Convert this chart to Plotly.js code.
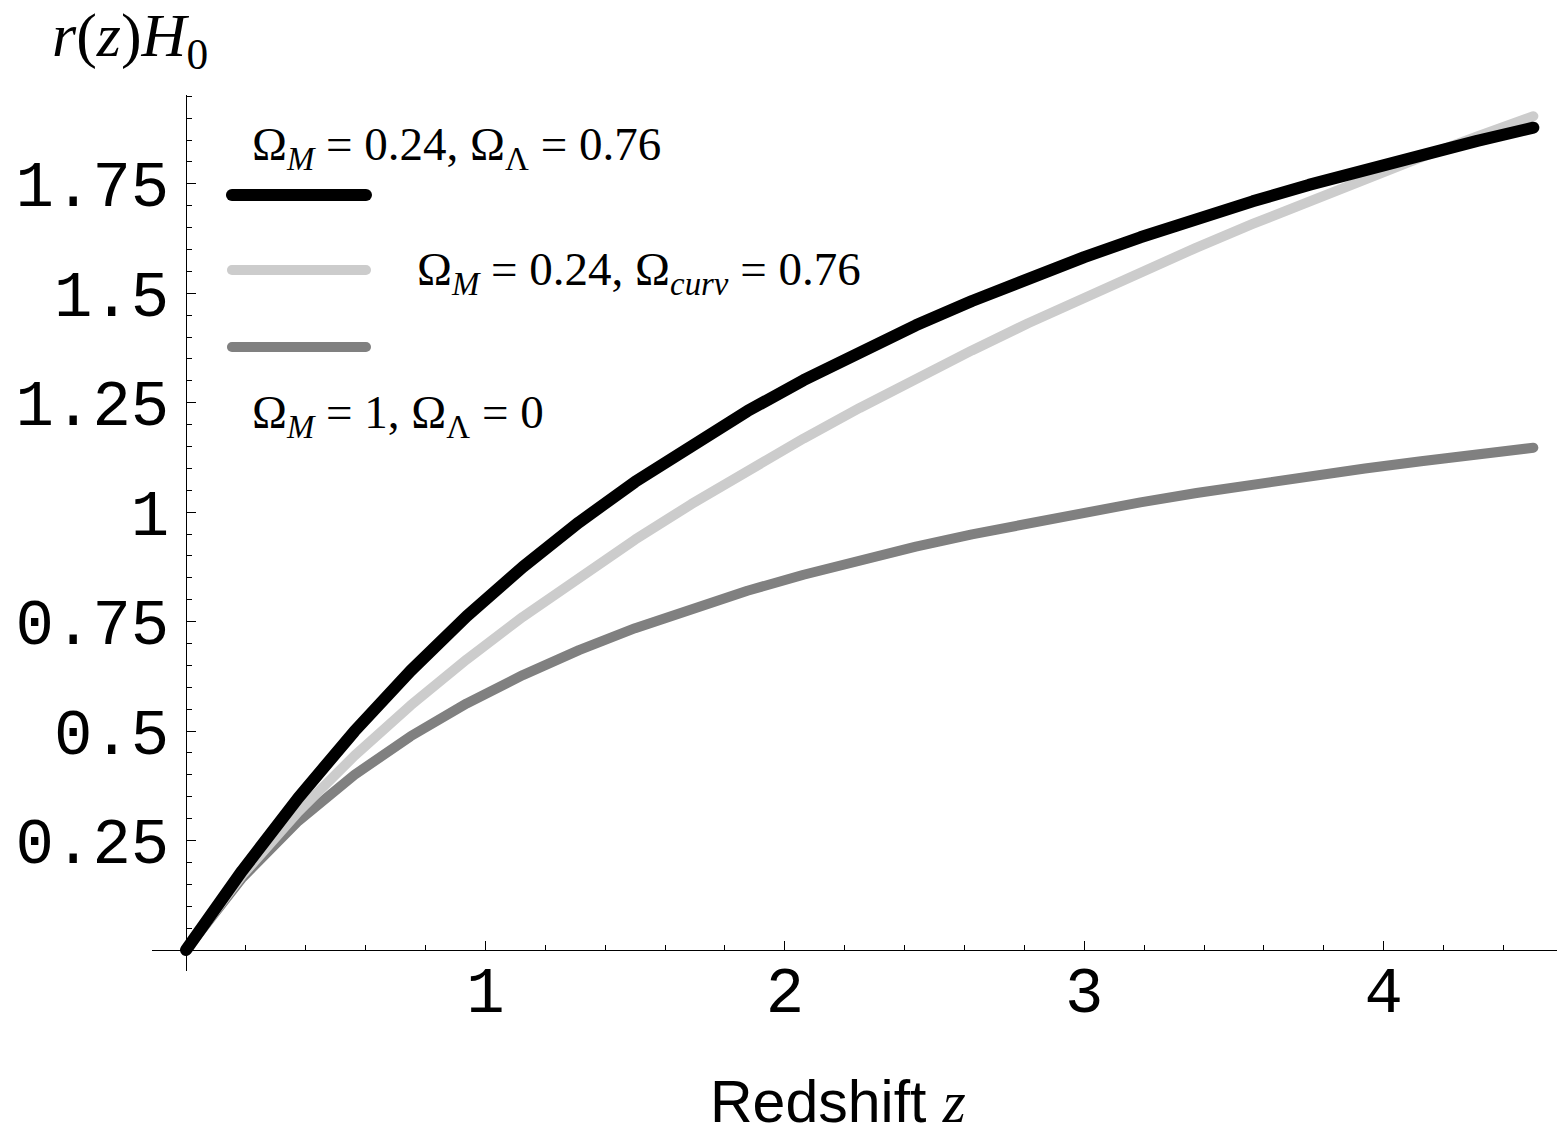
<!DOCTYPE html>
<html>
<head>
<meta charset="utf-8">
<script src="https://cdn.plot.ly/plotly-3.0.1.min.js"></script>
<style>
  html, body { margin: 0; padding: 0; background: #fff; }
  .scatterlayer .js-line { stroke-linecap: round; stroke-linejoin: round; }
  .shapelayer path { stroke-linecap: round; }
</style>
</head>
<body>
<div id="chart" style="width:1557px;height:1137px;"></div>
<script>
// Redshift samples
const z = [0, 0.1875, 0.375, 0.5625, 0.75, 0.9375, 1.125, 1.3125, 1.5, 1.6875, 1.875, 2.0625,
           2.25, 2.4375, 2.625, 2.8125, 3.0, 3.1875, 3.375, 3.5625, 3.75, 3.9375, 4.125, 4.3125, 4.5];
// Omega_M = 0.24, Omega_Lambda = 0.76 (black)
const rLambda = [0, 0.1808, 0.3476, 0.4996, 0.6375, 0.7622, 0.8749, 0.9769, 1.0695, 1.1538, 1.2309, 1.3016,
                 1.3667, 1.4268, 1.4825, 1.5344, 1.5827, 1.6279, 1.6702, 1.7101, 1.7476, 1.7830, 1.8165, 1.8483, 1.8784];
// Omega_M = 0.24, Omega_curv = 0.76 (light grey)
const rOpen = [0, 0.1706, 0.3158, 0.4436, 0.5585, 0.6637, 0.7611, 0.8521, 0.9376, 1.0184, 1.0952, 1.1683,
               1.2382, 1.3052, 1.3696, 1.4315, 1.4912, 1.5488, 1.6045, 1.6584, 1.7106, 1.7612, 1.8104, 1.8582, 1.9046];
// Omega_M = 1, Omega_Lambda = 0 (dark grey)
const rEdS = [0, 0.1647, 0.2944, 0.4000, 0.4881, 0.5632, 0.6280, 0.6848, 0.7351, 0.7800, 0.8205, 0.8571,
              0.8906, 0.9213, 0.9495, 0.9757, 1.0000, 1.0226, 1.0438, 1.0637, 1.0823, 1.0999, 1.1165, 1.1323, 1.1472];

const xTickVals = [1, 2, 3, 4];
const xTickText = ['1', '2', '3', '4'];
const yTickVals = [0.25, 0.5, 0.75, 1, 1.25, 1.5, 1.75];
const yTickText = ['0.25', '0.5', '0.75', '1', '1.25', '1.5', '1.75'];

const legendLabels = [
  'Ω<sub><i>M</i></sub> = 0.24, Ω<sub>Λ</sub> = 0.76',
  'Ω<sub><i>M</i></sub> = 0.24, Ω<sub><i>curv</i></sub> = 0.76',
  'Ω<sub><i>M</i></sub> = 1, Ω<sub>Λ</sub> = 0'
];
const colors = ['#000000', '#cccccc', '#808080'];

const traces = [
  {x: z, y: rEdS, type: 'scatter', mode: 'lines', line: {color: colors[2], width: 10}, showlegend: false, hoverinfo: 'skip'},
  {x: z, y: rOpen, type: 'scatter', mode: 'lines', line: {color: colors[1], width: 10}, showlegend: false, hoverinfo: 'skip'},
  {x: z, y: rLambda, type: 'scatter', mode: 'lines', line: {color: colors[0], width: 12}, showlegend: false, hoverinfo: 'skip'}
];

const monoFont = {family: 'Liberation Mono, Courier New, monospace', size: 64, color: '#000'};
const serif = 'Liberation Serif, Times New Roman, serif';

const layout = {
  width: 1557, height: 1137,
  margin: {l: 152, r: 0, t: 95, b: 166},
  paper_bgcolor: '#fff', plot_bgcolor: '#fff',
  showlegend: false,
  xaxis: {
    range: [-0.1136, 4.579], anchor: 'free', position: 0.024,
    showgrid: false, zeroline: false, showline: true, linecolor: '#000', linewidth: 1.3,
    ticks: 'inside', ticklen: 9, tickwidth: 1, tickcolor: '#000',
    tickmode: 'array', tickvals: xTickVals, ticktext: xTickText,
    tickfont: monoFont, ticklabelstandoff: -16,
    minor: {ticks: 'inside', ticklen: 5, tickwidth: 1, tickcolor: '#000', tick0: 0, dtick: 0.2, showgrid: false},
    automargin: false
  },
  yaxis: {
    range: [-0.048, 1.953], anchor: 'free', position: 0.0242,
    showgrid: false, zeroline: false, showline: true, linecolor: '#000', linewidth: 1.3,
    ticks: 'inside', ticklen: 9, tickwidth: 1, tickcolor: '#000',
    tickmode: 'array', tickvals: yTickVals, ticktext: yTickText,
    tickfont: monoFont, ticklabelstandoff: 4,
    minor: {ticks: 'inside', ticklen: 5, tickwidth: 1, tickcolor: '#000', tick0: 0, dtick: 0.05, showgrid: false},
    automargin: false
  },
  shapes: [
    {type: 'line', xref: 'paper', yref: 'paper', x0: 0.0569, x1: 0.1523, y0: 0.8858, y1: 0.8858, line: {color: colors[0], width: 12}},
    {type: 'line', xref: 'paper', yref: 'paper', x0: 0.0569, x1: 0.1523, y0: 0.8002, y1: 0.8002, line: {color: colors[1], width: 10}},
    {type: 'line', xref: 'paper', yref: 'paper', x0: 0.0569, x1: 0.1523, y0: 0.7123, y1: 0.7123, line: {color: colors[2], width: 10}}
  ],
  annotations: [
    {text: '<i>r</i>(<i>z</i>)<i>H</i><sub>0</sub>', xref: 'paper', yref: 'paper', x: -0.0725, y: 1.063,
     xanchor: 'left', yanchor: 'middle', showarrow: false, font: {family: serif, size: 62, color: '#000'}},
    {text: legendLabels[0], xref: 'paper', yref: 'paper', x: 0.0698, y: 0.940,
     xanchor: 'left', yanchor: 'middle', showarrow: false, font: {family: serif, size: 47, color: '#000'}},
    {text: legendLabels[1], xref: 'paper', yref: 'paper', x: 0.1872, y: 0.797,
     xanchor: 'left', yanchor: 'middle', showarrow: false, font: {family: serif, size: 47, color: '#000'}},
    {text: legendLabels[2], xref: 'paper', yref: 'paper', x: 0.0698, y: 0.634,
     xanchor: 'left', yanchor: 'middle', showarrow: false, font: {family: serif, size: 47, color: '#000'}},
    {text: 'Redshift <span style="font-family:Liberation Serif;font-style:italic">z</span>', xref: 'paper', yref: 'paper',
     x: 0.4880, y: -0.1500, xanchor: 'center', yanchor: 'middle', showarrow: false,
     font: {family: 'Liberation Sans, Arial, sans-serif', size: 59, color: '#000'}}
  ]
};

Plotly.newPlot('chart', traces, layout, {staticPlot: true, displayModeBar: false});
</script>
</body>
</html>
